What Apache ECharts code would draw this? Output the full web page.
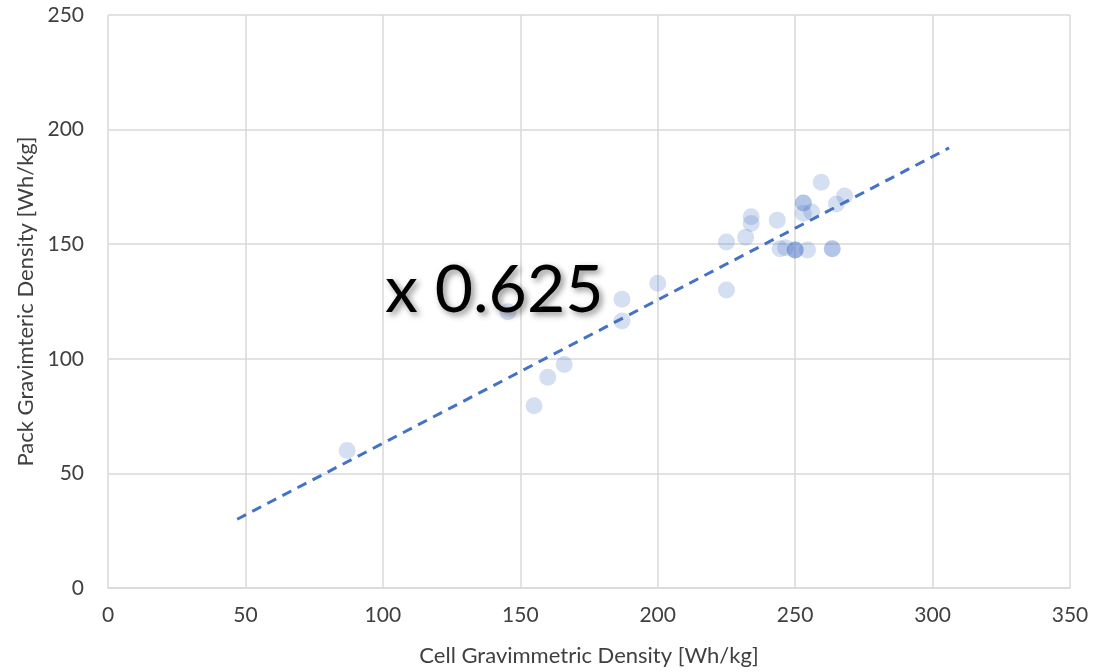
<!DOCTYPE html>
<html>
<head>
<meta charset="utf-8">
<script src="https://cdn.jsdelivr.net/npm/echarts@6/dist/echarts.min.js"></script>
<style>html,body{margin:0;padding:0;background:#fff}#c{width:1098px;height:672px}</style>
</head>
<body>
<div id="c"></div>
<script>
const cellDensity = [87, 155, 160, 166, 145.5, 187, 187, 200, 225, 225, 232, 234, 234, 243.5, 244.5, 246.5, 250, 250, 250, 253, 253, 253, 256, 254.5, 259.5, 263.5, 263.5, 265, 268];
const packDensity = [60, 79.5, 92, 97.5, 120.5, 126, 116.5, 133, 130, 151, 153, 162, 159, 160.5, 148, 148.5, 147.5, 147.5, 147.5, 168, 168, 163.5, 164, 147.5, 177, 148, 148, 167.5, 171];
const trendX = [47, 306];
const trendY = [30, 192];
const xTicks = [0, 50, 100, 150, 200, 250, 300, 350];
const yTicks = [0, 50, 100, 150, 200, 250];
const annotation = 'x 0.625';

const FONT = 'Lato';
const chart = echarts.init(document.getElementById('c'));
chart.setOption({
  animation: false,
  grid: {left: 108, right: 28, top: 15, bottom: 84},
  xAxis: {
    type: 'value', min: xTicks[0], max: xTicks[xTicks.length - 1], interval: 50,
    name: 'Cell Gravimmetric Density [Wh/kg]', nameLocation: 'middle', nameGap: 57,
    nameTextStyle: {fontFamily: FONT, fontSize: 22, color: '#404040'},
    axisLine: {show: true, lineStyle: {color: '#d9d9d9', width: 1.5}},
    axisTick: {show: false},
    axisLabel: {fontFamily: FONT, fontSize: 21, color: '#404040', margin: 17},
    splitLine: {show: true, lineStyle: {color: '#d9d9d9', width: 1.5}}
  },
  yAxis: {
    type: 'value', min: yTicks[0], max: yTicks[yTicks.length - 1], interval: 50,
    name: 'Pack Gravimteric Density [Wh/kg]', nameLocation: 'middle', nameGap: 69,
    nameTextStyle: {fontFamily: FONT, fontSize: 22, color: '#404040'},
    axisLine: {show: false},
    axisTick: {show: false},
    axisLabel: {fontFamily: FONT, fontSize: 21, color: '#404040', margin: 24},
    splitLine: {show: true, lineStyle: {color: '#d9d9d9', width: 1.5}}
  },
  series: [
    {
      type: 'scatter',
      data: cellDensity.map((x, i) => [x, packDensity[i]]),
      symbolSize: 17,
      itemStyle: {color: 'rgba(68,114,196,0.28)'},
      z: 2
    },
    {
      type: 'line',
      data: trendX.map((x, i) => [x, trendY[i]]),
      symbol: 'none',
      lineStyle: {color: '#4472C4', width: 3, type: [10, 7]},
      z: 3
    }
  ],
  graphic: [{
    type: 'text', left: 385, top: 258, z: 10,
    style: {
      text: annotation, fontFamily: FONT, fontSize: 66, fill: '#000',
      textShadowColor: 'rgba(0,0,0,0.45)', textShadowBlur: 6, textShadowOffsetX: 3, textShadowOffsetY: 3
    }
  }]
});
</script>
</body>
</html>
